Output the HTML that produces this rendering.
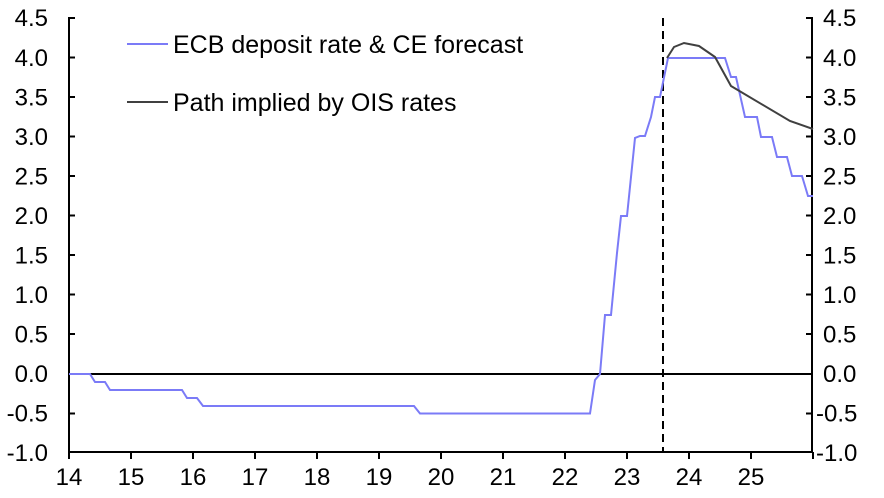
<!DOCTYPE html>
<html><head><style>body{margin:0;background:#fff}svg{display:block}text{font-family:"Liberation Sans",Arial,sans-serif;font-size:24px;fill:#000}</style></head>
<body>
<svg width="884" height="498" viewBox="0 0 884 498">
<g stroke="#000" stroke-width="2">
<line x1="69" y1="374" x2="813" y2="374"/>
<line x1="69" y1="17" x2="69" y2="453"/>
<line x1="812" y1="17" x2="812" y2="453"/>
<line x1="68" y1="452" x2="813" y2="452"/>
</g>
<g stroke="#000" stroke-width="2">
<path d="M69 452v7M131 452v7M193 452v7M255 452v7M317 452v7M379 452v7M441 452v7M503 452v7M565 452v7M627 452v7M689 452v7M751 452v7M813 452v7"/>
<path d="M69 18h6M69 57.5h6M69 97h6M69 136.5h6M69 176h6M69 215.5h6M69 255h6M69 294.5h6M69 334h6M69 413.5h6M812 18h-6M812 57.5h-6M812 97h-6M812 136.5h-6M812 176h-6M812 215.5h-6M812 255h-6M812 294.5h-6M812 334h-6M812 413.5h-6"/>
</g>
<line x1="663" y1="18" x2="663" y2="452" stroke="#000" stroke-width="2" stroke-dasharray="8,5"/>
<polyline fill="none" stroke="#7b7bf7" stroke-width="2" points="69,374 90,374 95,382 105,382 110,390 182,390 187,398 197,398 203,406 414,406 420,413.5 590,413.5 595,380 600,374 605,315 611,315 617,253 621,216 627,216 635,138 640,136 645,136 651,117 655,97 660,97 668,58 725,58 731,77 736,77 745,117 757,117 761,137 772,137 777,157 787,157 792,176 802,176 808,196 813,196"/>
<polyline fill="none" stroke="#404040" stroke-width="2" points="667,58 674,47 684,43 699,46 715,57 731,86 790,121 813,129"/>
<line x1="127" y1="44" x2="168" y2="44" stroke="#7b7bf7" stroke-width="2"/>
<text x="173" y="53" style="font-size:25px">ECB deposit rate &amp; CE forecast</text>
<line x1="127" y1="102" x2="168" y2="102" stroke="#404040" stroke-width="2"/>
<text x="173" y="111" style="font-size:25px">Path implied by OIS rates</text>
<g text-anchor="end">
<text x="48" y="26">4.5</text><text x="48" y="66">4.0</text><text x="48" y="105.5">3.5</text><text x="48" y="145">3.0</text><text x="48" y="184.5">2.5</text><text x="48" y="224">2.0</text><text x="48" y="263.5">1.5</text><text x="48" y="303">1.0</text><text x="48" y="342.5">0.5</text><text x="48" y="382">0.0</text><text x="48" y="421.5">-0.5</text><text x="48" y="461">-1.0</text>
</g>
<g text-anchor="start">
<text x="823" y="26">4.5</text><text x="823" y="66">4.0</text><text x="823" y="105.5">3.5</text><text x="823" y="145">3.0</text><text x="823" y="184.5">2.5</text><text x="823" y="224">2.0</text><text x="823" y="263.5">1.5</text><text x="823" y="303">1.0</text><text x="823" y="342.5">0.5</text><text x="823" y="382">0.0</text><text x="816" y="421.5">-0.5</text><text x="816" y="461">-1.0</text>
</g>
<g text-anchor="middle">
<text x="69" y="485">14</text><text x="131" y="485">15</text><text x="193" y="485">16</text><text x="255" y="485">17</text><text x="317" y="485">18</text><text x="379" y="485">19</text><text x="441" y="485">20</text><text x="503" y="485">21</text><text x="565" y="485">22</text><text x="627" y="485">23</text><text x="689" y="485">24</text><text x="751" y="485">25</text>
</g>
</svg>
</body></html>
